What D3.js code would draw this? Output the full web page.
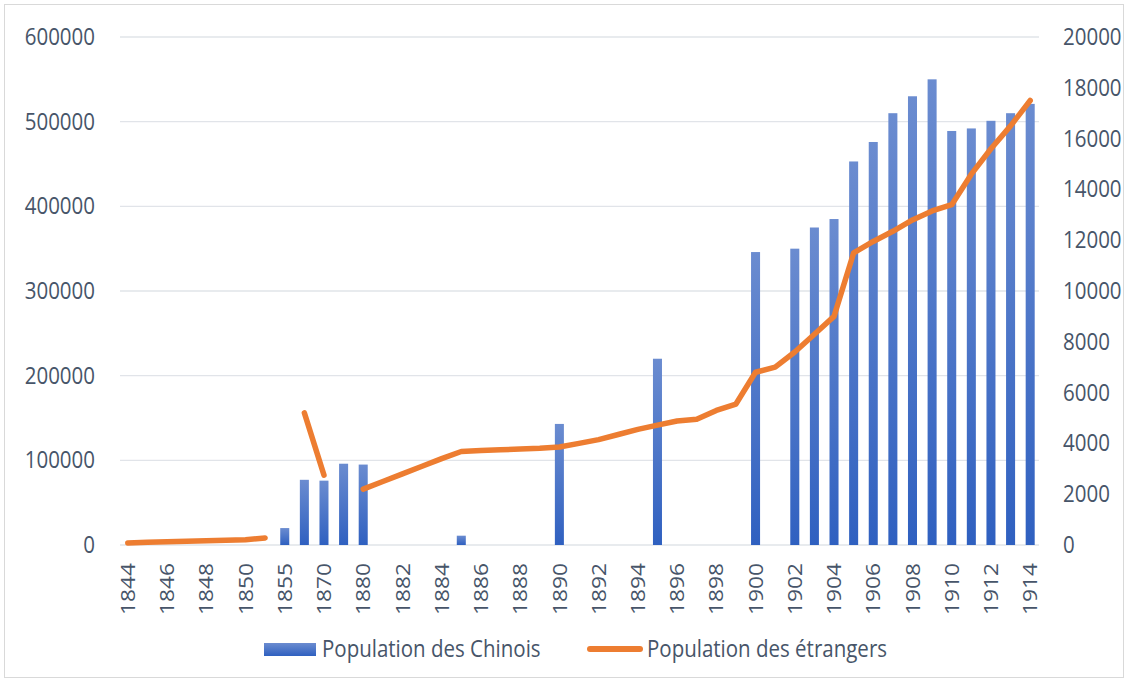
<!DOCTYPE html>
<html><head><meta charset="utf-8">
<script src="https://cdn.jsdelivr.net/npm/d3@7"></script>
<style>
html,body{margin:0;padding:0;background:#fff;}
text{font-family:"Open Sans","Liberation Sans",sans-serif;fill:#475569;}
</style></head>
<body><svg id="c" width="1129" height="683"></svg>
<script>
const categories = ["1844","1845","1846","1847","1848","1849","1850","1851","1855","1865","1870","1875",
"1880","1881","1882","1883","1884","1885","1886","1887","1888","1889","1890","1891","1892","1893","1894","1895",
"1896","1897","1898","1899","1900","1901","1902","1903","1904","1905","1906","1907","1908","1909","1910","1911","1912","1913","1914"];
const chinois = [null,null,null,null,null,null,null,null,20000,77000,76000,96000,
95000,null,null,null,null,11000,null,null,null,null,143000,null,null,null,null,220000,
null,null,null,null,346000,null,350000,375000,385000,453000,476000,510000,530000,550000,489000,492000,501000,510000,521000];
const etrangers = [80,110,130,150,170,185,210,280,null,5200,2750,null,
2200,2500,2800,3100,3400,3680,3720,3750,3780,3810,3860,4000,4150,4350,4550,4720,
4880,4950,5300,5550,6800,7000,7600,8300,9000,11500,11950,12350,12800,13150,13400,14600,15600,16500,17500];
const leftTicks = [0,100000,200000,300000,400000,500000,600000];
const rightTicks = [0,2000,4000,6000,8000,10000,12000,14000,16000,18000,20000];
const seriesNames = ["Population des Chinois","Population des étrangers"];

const TXT = "#475569";
const STRETCH = 1.15;
const svg = d3.select("#c");
svg.append("rect").attr("x",4.5).attr("y",4.5).attr("width",1119).attr("height",673)
  .attr("fill","#fff").attr("stroke","#d9d9d9");

const defs = svg.append("defs");
const g = defs.append("linearGradient").attr("id","bg").attr("x1",0).attr("y1",0).attr("x2",0).attr("y2",1);
g.append("stop").attr("offset","0%").attr("stop-color","#6b8cd0");
g.append("stop").attr("offset","100%").attr("stop-color","#2f60c0");

const x = d3.scaleBand().domain(categories).range([118,1040]).padding(0);
const yL = d3.scaleLinear().domain([0,600000]).range([545,37]);
const yR = d3.scaleLinear().domain([0,20000]).range([545,37]);

// gridlines
svg.append("g").selectAll("line").data(leftTicks).join("line")
  .attr("x1",120).attr("x2",1039).attr("y1",d=>yL(d)).attr("y2",d=>yL(d))
  .attr("stroke","#e1e4e9").attr("stroke-width",1.3);

function styleTicks(sel, fs){
  sel.style("font-size",fs+"px").style("fill",TXT).style("font-family","'Open Sans'");
}

// left axis labels
const axL = svg.append("g").attr("transform","translate(122,0)")
  .call(d3.axisLeft(yL).tickValues(leftTicks).tickFormat(d3.format("d")).tickSize(0).tickPadding(27));
axL.select(".domain").remove();
axL.selectAll("text").attr("transform",`scale(1,${STRETCH})`);
styleTicks(axL.selectAll("text"),20.5);

const axR = svg.append("g").attr("transform","translate(1038,0)")
  .call(d3.axisRight(yR).tickValues(rightTicks).tickFormat(d3.format("d")).tickSize(0).tickPadding(25));
axR.select(".domain").remove();
axR.selectAll("text").attr("transform",`scale(1,${STRETCH})`);
styleTicks(axR.selectAll("text"),20.5);

// x axis labels (every other)
const axB = svg.append("g").attr("transform","translate(0,545)")
  .call(d3.axisBottom(x).tickValues(categories.filter((d,i)=>i%2===0)).tickSize(0).tickPadding(0));
axB.select(".domain").remove();
axB.selectAll("text").attr("transform",`scale(1,${STRETCH}) rotate(-90)`).attr("x",-18/STRETCH).attr("y",0).attr("dy","0.36em")
  .style("text-anchor","end");
styleTicks(axB.selectAll("text"),19.8);

// bars
const bw = x.bandwidth()*0.46;
svg.append("g").selectAll("rect").data(categories.map((c,i)=>({c,v:chinois[i]})).filter(d=>d.v!=null))
  .join("rect")
  .attr("x",d=>x(d.c)+x.bandwidth()/2-bw/2).attr("width",bw)
  .attr("y",d=>yL(d.v)).attr("height",d=>yL(0)-yL(d.v))
  .attr("fill","url(#bg)");

// line
const line = d3.line().defined(d=>d.v!=null).x(d=>x(d.c)+x.bandwidth()/2).y(d=>yR(d.v));
svg.append("path").datum(categories.map((c,i)=>({c,v:etrangers[i]})))
  .attr("d",line).attr("fill","none").attr("stroke","#ed7d31").attr("stroke-width",5.5)
  .attr("stroke-linecap","round").attr("stroke-linejoin","round");

// legend
const lg = svg.append("g");
lg.append("rect").attr("x",264).attr("y",643).attr("width",52).attr("height",13).attr("fill","url(#bg)");
lg.append("text").attr("transform",`translate(322,649) scale(1,${STRETCH})`).attr("dy","0.35em")
  .style("font-size","20.5px").style("fill",TXT).text(seriesNames[0]);
lg.append("line").attr("x1",590).attr("x2",640).attr("y1",649).attr("y2",649)
  .attr("stroke","#ed7d31").attr("stroke-width",6).attr("stroke-linecap","round");
lg.append("text").attr("transform",`translate(647,649) scale(1,${STRETCH})`).attr("dy","0.35em")
  .style("font-size","20.5px").style("fill",TXT).text(seriesNames[1]);
</script></body></html>
